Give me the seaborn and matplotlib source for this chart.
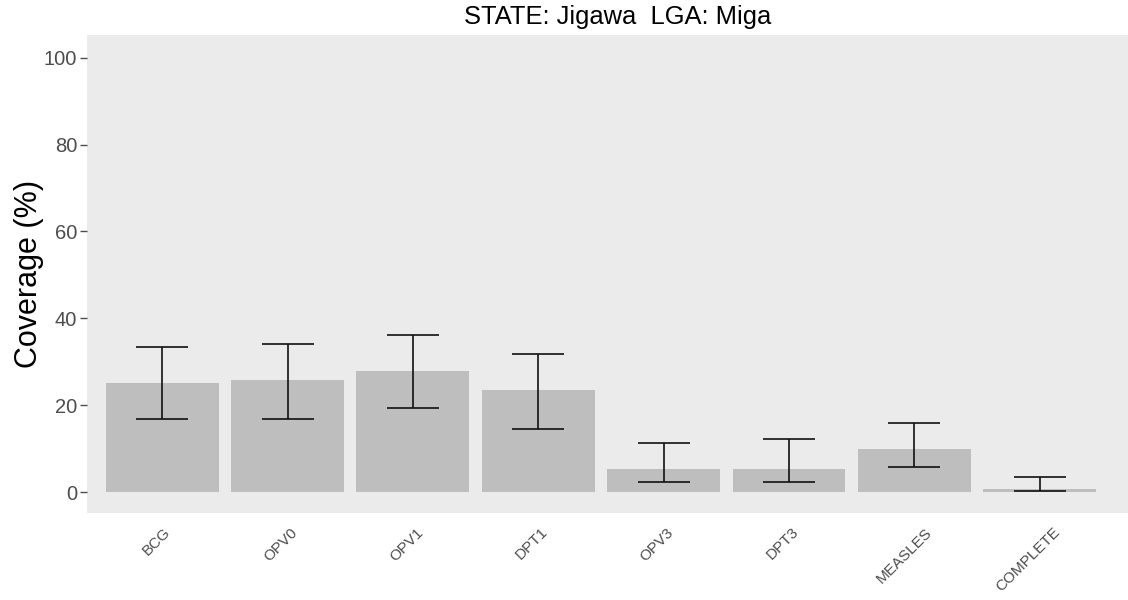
import matplotlib
matplotlib.use("Agg")
import matplotlib.pyplot as plt
import matplotlib.transforms as mtransforms
import seaborn as sns
import pandas as pd
import numpy as np

categories = ["BCG", "OPV0", "OPV1", "DPT1", "OPV3", "DPT3", "MEASLES", "COMPLETE"]
coverage = [25.2, 25.8, 27.9, 23.4, 5.4, 5.4, 9.9, 0.8]
lower_ci = [16.9, 16.9, 19.3, 14.5, 2.3, 2.3, 5.9, 0.2]
upper_ci = [33.3, 34.2, 36.1, 31.8, 11.3, 12.3, 15.9, 3.5]
title = "STATE: Jigawa  LGA: Miga"
ylabel = "Coverage (%)"
yticks = [0, 20, 40, 60, 80, 100]

df = pd.DataFrame({"vaccine": categories, "coverage": coverage,
                   "lo": lower_ci, "hi": upper_ci})

sns.set_style("white")
plt.rcParams["font.family"] = ["Liberation Sans", "DejaVu Sans"]

fig = plt.figure(figsize=(11.28, 6.0), dpi=100)
ax = fig.add_axes([87 / 1128, 1 - 513 / 600, 1 - 87 / 1128, (513 - 35) / 600])
ax.set_facecolor("#EBEBEB")

sns.barplot(data=df, x="vaccine", y="coverage", color="#BEBEBE", saturation=1,
            width=0.9, errorbar=None, ax=ax, edgecolor="none")

x = np.arange(len(categories))
yerr = np.array([df["coverage"] - df["lo"], df["hi"] - df["coverage"]])
ax.errorbar(x, df["coverage"], yerr=yerr, fmt="none", ecolor="#111111",
            elinewidth=1.2, capsize=19, capthick=1.2)

ax.set_xlim(-0.6, 7.705)
ax.set_ylim(-4.8, 105.2)
ax.set_yticks(yticks)
ax.set_yticklabels([str(v) for v in yticks], fontsize=14.5, color="#4D4D4D")
ax.tick_params(axis="y", length=5, width=1, color="#4D4D4D", pad=2, left=True)
ax.set_xticks(x)
ax.set_xticklabels([""] * len(categories))
ax.tick_params(axis="x", length=0)

ax.set_xlabel("")
ax.set_ylabel(ylabel, fontsize=22, color="black", labelpad=0)
for s in ax.spines.values():
    s.set_visible(False)
ax.grid(False)

# rotated category labels (screen-space justification like ggplot)
base = mtransforms.blended_transform_factory(ax.transData, ax.transAxes)
labels = []
for i, c in enumerate(categories):
    t = ax.text(i, 0, c, transform=base + mtransforms.ScaledTranslation(0, -0.12, fig.dpi_scale_trans),
                rotation=45, ha="center", va="top", fontsize=11, color="#4D4D4D",
                clip_on=False)
    labels.append(t)

fig.text(618 / 1128, 1 - 17 / 600, title, ha="center", va="center", fontsize=18.4, color="black")

fig.canvas.draw()
r = fig.canvas.get_renderer()
for t in labels:
    w = t.get_window_extent(r).width
    t.set_transform(base + mtransforms.ScaledTranslation(-0.17 * w / 100, -0.12, fig.dpi_scale_trans))

fig.savefig("out.png", dpi=100)
